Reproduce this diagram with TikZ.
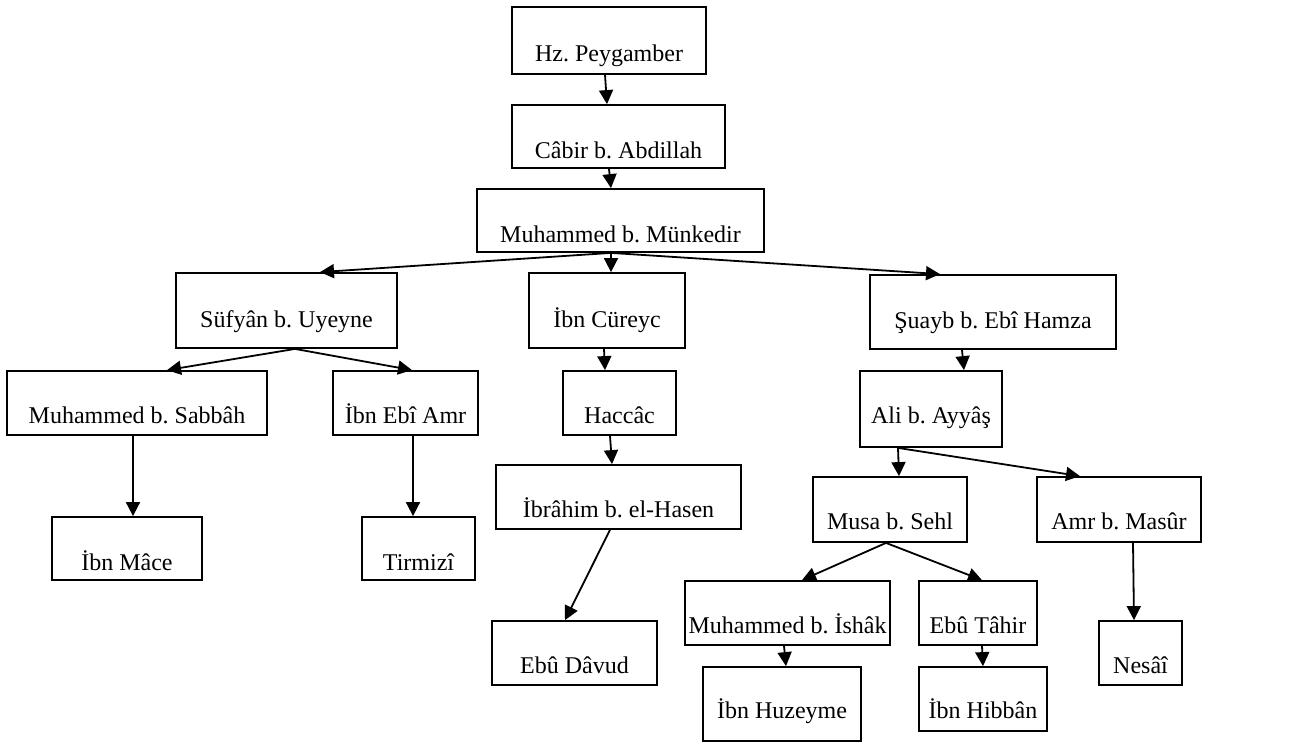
\documentclass[tikz,border=0pt]{standalone}
\usepackage{fontspec}
\setmainfont{Liberation Serif}
\usetikzlibrary{arrows.meta, calc}
\frenchspacing
\tikzset{%
    box/.style n args={3}{draw, line width=0.9pt, inner sep=0pt,
        minimum width=#1*0.5pt, text height=(#2-#3)*0.5pt, text depth=#3*0.5pt,
        font=\fontsize{12}{14}\selectfont},
    arr/.style={line width=0.9pt, -{Triangle[length=7pt,width=7pt]}}
}
\begin{document}
\begin{tikzpicture}[x=0.5pt,y=-0.5pt]
        \useasboundingbox (0,0) rectangle (1295,745);

        \node[box={194}{67}{13}] (hz) at (609,40.5){Hz. Peygamber};
        \node[box={213}{63}{10}] (cabir) at (618.5,136.5){Câbir b. Abdillah};
        \node[box={287}{63}{10}] (munkedir) at (620.5,220.5){Muhammed b. Münkedir};

        \node[box={221}{75}{21}] (sufyan) at (286.5,310.5){Süfyân b. Uyeyne};
        \node[box={156}{75}{21}] (cureyc) at (607,310.5){İbn Cüreyc};
        \node[box={246}{74}{21}] (suayb) at (993,312){Şuayb b. Ebî Hamza};

        \node[box={260}{64}{12}] (sabbah) at (137,403){Muhammed b. Sabbâh};
        \node[box={145}{64}{12}] (ebiamr) at (405.5,403){İbn Ebî Amr};
        \node[box={150}{63}{10}] (mace) at (127,548.5){İbn Mâce};
        \node[box={113}{63}{10}] (tirmizi) at (418.5,548.5){Tirmizî};

        \node[box={113}{64}{12}] (haccac) at (619.5,403){Haccâc};
        \node[box={245}{64}{12}] (ibrahim) at (618.5,497){İbrâhim b. el-Hasen};
        \node[box={165}{64}{12}] (davud) at (574.5,653){Ebû Dâvud};

        \node[box={142}{76}{24}] (ali) at (931,409){Ali b. Ayyâş};
        \node[box={154}{65}{13}] (musa) at (890,509.5){Musa b. Sehl};
        \node[box={164}{65}{13}] (amr) at (1119,509.5){Amr b. Masûr};
        \node[box={205}{64}{12}] (ishak) at (787.5,613){Muhammed b. İshâk};
        \node[box={118}{64}{12}] (tahir) at (978,613){Ebû Tâhir};
        \node[box={158}{74}{23}] (huzeyme) at (782,704){İbn Huzeyme};
        \node[box={128}{64}{13}] (hibban) at (983,699){İbn Hibbân};
        \node[box={83}{64}{12}] (nesai) at (1140.5,653){Nesâî};

        \draw[arr] ($(hz.south)+(-4,0)$) -- ($(cabir.north)+(-11.5,0)$);
        \draw[arr] ($(cabir.south)+(-9.5,0)$) -- ($(munkedir.north)+(-9.5,0)$);

        \draw[arr] ($(munkedir.south)+(-9.5,0)$) -- ($(sufyan.north)+(33.5,0)$);
        \draw[arr] ($(munkedir.south)+(-9.5,0)$) -- ($(cureyc.north)+(4,0)$);
        \draw[arr] ($(munkedir.south)+(-9.5,0)$) -- ($(suayb.north)+(-53,0)$);

        \draw[arr] ($(sufyan.south)+(8.5,0)$) -- ($(sabbah.north)+(30,0)$);
        \draw[arr] ($(sufyan.south)+(8.5,0)$) -- ($(ebiamr.north)+(6.5,0)$);
        \draw[arr] ($(sabbah.south)+(-4,0)$) -- ($(mace.north)+(6,0)$);
        \draw[arr] ($(ebiamr.south)+(7.5,0)$) -- ($(tirmizi.north)+(-5.5,0)$);

        \draw[arr] ($(cureyc.south)+(-3,0)$) -- ($(haccac.north)+(-14.5,0)$);
        \draw[arr] ($(haccac.south)+(-9.5,0)$) -- ($(ibrahim.north)+(-6.5,0)$);
        \draw[arr] ($(ibrahim.south)+(-8.5,0)$) -- ($(davud.north)+(-9.5,0)$);

        \draw[arr] ($(suayb.south)+(-31,0)$) -- ($(ali.north)+(33,0)$);
        \draw[arr] ($(ali.south)+(-33,0)$) -- ($(musa.north)+(9,0)$);
        \draw[arr] ($(ali.south)+(-33,0)$) -- ($(amr.north)+(-39,0)$);
        \draw[arr] ($(musa.south)+(-4,0)$) -- ($(ishak.north)+(14.5,0)$);
        \draw[arr] ($(musa.south)+(-4,0)$) -- ($(tahir.north)+(4,0)$);
        \draw[arr] ($(ishak.south)+(-3.5,0)$) -- ($(huzeyme.north)+(4,0)$);
        \draw[arr] ($(tahir.south)+(4,0)$) -- ($(hibban.north)+(0,0)$);
        \draw[arr] ($(amr.south)+(14,0)$) -- ($(nesai.north)+(-6.5,0)$);
    \end{tikzpicture}
\end{document}
